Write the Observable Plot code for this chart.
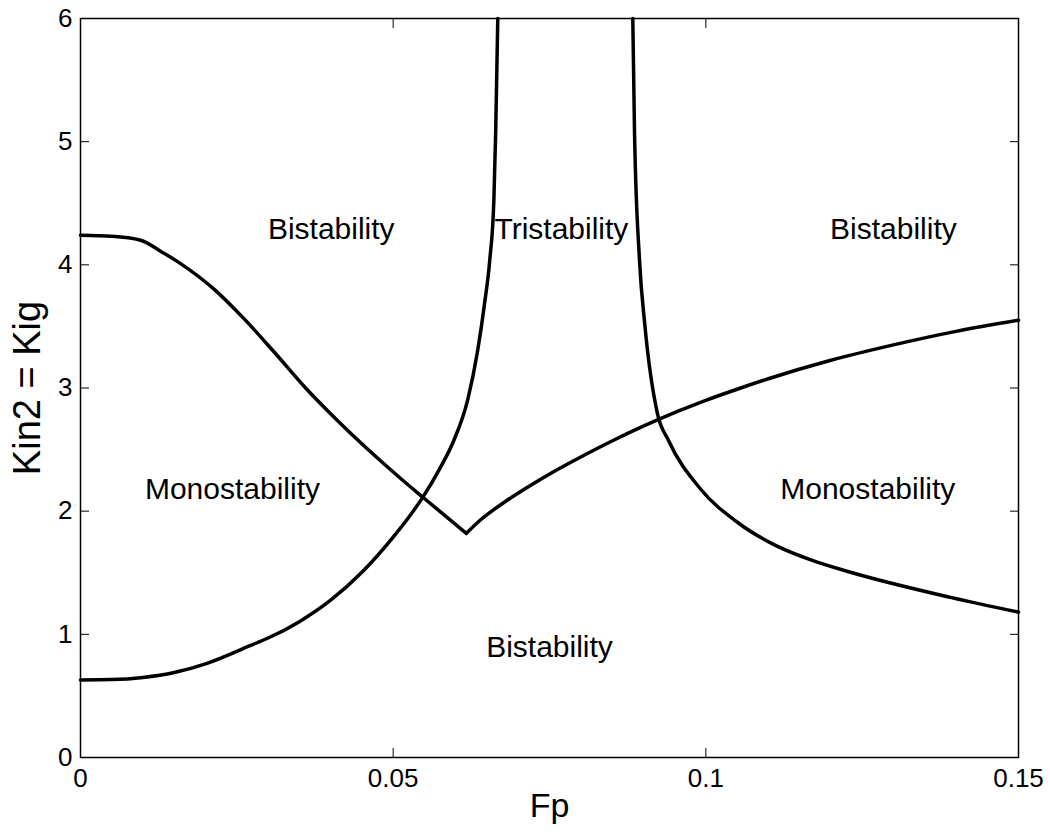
<!DOCTYPE html>
<html><head><meta charset="utf-8">
<script src="https://cdn.jsdelivr.net/npm/d3@7"></script>
<script src="https://cdn.jsdelivr.net/npm/@observablehq/plot@0.6"></script>
<style>body{margin:0;background:#fff}</style>
</head><body><div id="chart"></div>
<script>
// Tick values and labels
const xTicks = [0, 0.05, 0.1, 0.15];
const xTickLabels = ["0", "0.05", "0.1", "0.15"];
const yTicks = [0, 1, 2, 3, 4, 5, 6];
const yTickLabels = ["0", "1", "2", "3", "4", "5", "6"];

// Boundary curves [Fp, Kin2]
const boundaryA1 = [[0,4.24],[0.005,4.232],[0.0096,4.20],[0.013,4.105],[0.016,4.01],[0.0213,3.805],[0.0261,3.565],[0.031,3.29],[0.036,3.0],[0.041,2.74],[0.0462,2.49],[0.0512,2.265],[0.0547,2.115],[0.0617,1.82]];
const boundaryA2 = [[0.0617,1.82],[0.064,1.93],[0.068,2.08],[0.072,2.21],[0.076,2.33],[0.08,2.44],[0.085,2.57],[0.09,2.69],[0.095,2.80],[0.1,2.90],[0.105,2.99],[0.11,3.075],[0.12,3.225],[0.13,3.35],[0.14,3.46],[0.15,3.55]];
const boundaryB = [[0,0.63],[0.005,0.633],[0.01,0.65],[0.015,0.69],[0.02,0.76],[0.0272,0.91],[0.03,0.97],[0.035,1.103],[0.04,1.277],[0.045,1.504],[0.05,1.79],[0.0532,2.0],[0.0547,2.11],[0.0575,2.35],[0.0597,2.574],[0.0619,2.90],[0.0635,3.30],[0.0646,3.68],[0.06545,4.04],[0.0661,4.52],[0.0664,5.09],[0.06673,6.0]];
const boundaryC = [[0.08832,6.0],[0.08859,5.09],[0.08939,4.04],[0.09027,3.5],[0.09227,2.79],[0.09403,2.574],[0.09915,2.18],[0.10515,1.906],[0.11114,1.722],[0.11713,1.598],[0.12313,1.504],[0.13912,1.30],[0.15,1.18]];

// Region labels
const regionLabels = ["Bistability", "Tristability", "Bistability", "Monostability", "Monostability", "Bistability"];
const regionFp = [0.0401, 0.0769, 0.1300, 0.0243, 0.1259, 0.0750];
const regionKin = [4.29, 4.29, 4.29, 2.18, 2.18, 0.893];

const xTitle = ["Fp"];
const yTitle = ["Kin2 = Kig"];

const FONT = "'Liberation Sans', Arial, Helvetica, sans-serif";
const lineStyle = {x: d => d[0], y: d => d[1], curve: "monotone-x", stroke: "black", strokeWidth: 3.5, strokeLinecap: "round", strokeLinejoin: "round"};

const chart = Plot.plot({
  width: 1050, height: 839,
  marginLeft: 80, marginRight: 32, marginTop: 18, marginBottom: 82,
  x: {domain: [0, 0.15]},
  y: {domain: [0, 6]},
  style: {fontFamily: FONT, background: "white", color: "black"},
  marks: [
    Plot.axisX(xTicks, {anchor: "bottom", tickSize: 0, tickPadding: 11, fontSize: 26, label: null, tickFormat: d => xTickLabels[xTicks.indexOf(d)]}),
    Plot.axisY(yTicks, {anchor: "left", tickSize: 0, tickPadding: 8, fontSize: 26, label: null, tickFormat: d => yTickLabels[yTicks.indexOf(d)]}),
    Plot.axisX(xTicks, {anchor: "bottom", tickSize: -9, label: null, tickFormat: () => ""}),
    Plot.axisX(xTicks, {anchor: "top", tickSize: -9, label: null, tickFormat: () => ""}),
    Plot.axisY(yTicks, {anchor: "left", tickSize: -9, label: null, tickFormat: () => ""}),
    Plot.axisY(yTicks, {anchor: "right", tickSize: -9, label: null, tickFormat: () => ""}),
    Plot.line(boundaryA1, lineStyle),
    Plot.line(boundaryA2, lineStyle),
    Plot.line(boundaryB, lineStyle),
    Plot.line(boundaryC, lineStyle),
    Plot.text(regionLabels, {x: (d, i) => regionFp[i], y: (d, i) => regionKin[i], text: d => d, fontSize: 30, fill: "black"}),
    Plot.text(xTitle, {frameAnchor: "bottom", textAnchor: "middle", lineAnchor: "middle", dy: 49, fontSize: 34, fill: "black"}),
    Plot.text(yTitle, {frameAnchor: "left", textAnchor: "middle", lineAnchor: "middle", dx: -53, rotate: -90, fontSize: 38, fill: "black"}),
    Plot.frame({stroke: "black", strokeWidth: 1.5})
  ]
});
document.getElementById("chart").appendChild(chart);
</script>
</body></html>
